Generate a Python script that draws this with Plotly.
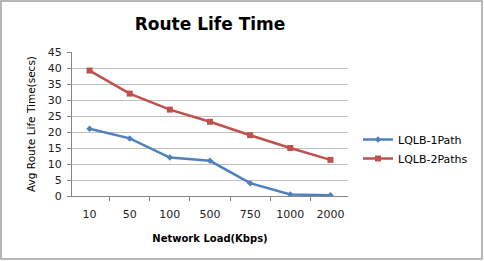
import plotly.graph_objects as go

categories = ["10", "50", "100", "500", "750", "1000", "2000"]
lqlb_1path = [21, 18, 12, 11, 4, 0.5, 0.2]
lqlb_2paths = [39.2, 32, 27, 23.2, 19, 15, 11.3]
y_ticks = [0, 5, 10, 15, 20, 25, 30, 35, 40, 45]

W, H = 484, 261
L, R, T, B = 72, 136, 52, 65
pw, ph = W - L - R, H - T - B
FONT = "DejaVu Sans"

fig = go.Figure()
fig.add_trace(go.Scatter(x=categories, y=lqlb_1path, name="LQLB-1Path", mode="lines+markers",
                         line=dict(color="#4F81BD", width=2.5),
                         marker=dict(symbol="diamond", size=5, color="#4F81BD")))
fig.add_trace(go.Scatter(x=categories, y=lqlb_2paths, name="LQLB-2Paths", mode="lines+markers",
                         line=dict(color="#C0504D", width=2.5),
                         marker=dict(symbol="square", size=6, color="#C0504D")))

fig.update_layout(
    width=W, height=H,
    margin=dict(l=L, r=R, t=T, b=B, autoexpand=False),
    paper_bgcolor="white", plot_bgcolor="white",
    font=dict(family=FONT, size=10, color="#000000"),
    title=dict(text="<b>Route Life Time</b>", x=242 / W, xanchor="center",
               y=1 - 24 / H, yanchor="middle", xref="paper",
               font=dict(family=FONT, size=17, color="#000000")),
    showlegend=True,
    legend=dict(x=(358 - L) / pw, y=(196 - 149) / ph, xanchor="left", yanchor="middle",
                font=dict(family=FONT, size=11), bgcolor="rgba(0,0,0,0)", tracegroupgap=6),
    xaxis=dict(type="category", showgrid=False, showline=True, linecolor="#868686", linewidth=1,
               ticks="outside", tickson="boundaries", ticklen=4, tickcolor="#868686",
               ticklabelstandoff=8,
               tickfont=dict(family=FONT, size=11, color="#222222"), fixedrange=True,
               title=dict(text="<b>Network Load(Kbps)</b>", font=dict(family=FONT, size=10), standoff=14)),
    yaxis=dict(range=[0, 45], tickvals=y_ticks, showgrid=True, gridcolor="#BFBFBF", gridwidth=1,
               showline=True, linecolor="#868686", ticks="outside", ticklen=4, tickcolor="#868686",
               ticklabelstandoff=3, fixedrange=True,
               tickfont=dict(family=FONT, size=11, color="#222222"), zeroline=False,
               title=dict(text="Avg Route Life Time(secs)", font=dict(family=FONT, size=10.5), standoff=10)),
)

fig.add_shape(type="rect", xref="paper", yref="paper",
              x0=(1 - L) / pw, x1=(W - 2 - L) / pw,
              y0=(T + ph - (H - 2)) / ph, y1=(T + ph - 1) / ph,
              line=dict(color="#A0A0A0", width=1.5), fillcolor="rgba(0,0,0,0)", layer="below")

fig.write_html("out.html", config={"displayModeBar": False},
               post_script="document.body.style.margin='0';document.body.style.padding='0';")
